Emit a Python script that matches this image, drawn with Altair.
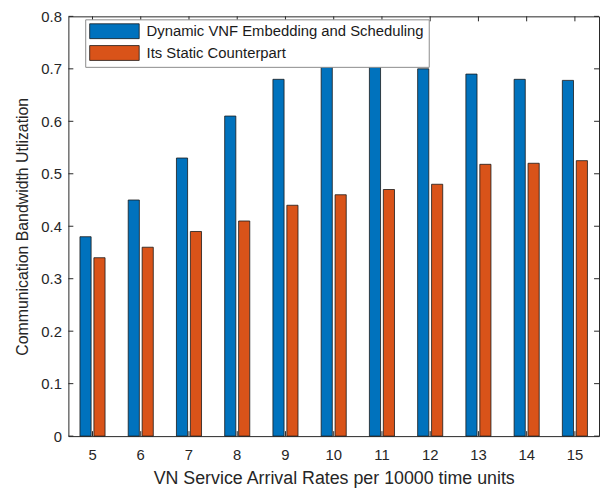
import altair as alt
import pandas as pd

categories = [5, 6, 7, 8, 9, 10, 11, 12, 13, 14, 15]
dynamic_vals = [0.38, 0.45, 0.53, 0.61, 0.68, 0.71, 0.71, 0.70, 0.69, 0.68, 0.678]
static_vals = [0.34, 0.36, 0.39, 0.41, 0.44, 0.46, 0.47, 0.48, 0.518, 0.52, 0.525]
series_names = ["Dynamic VNF Embedding and Scheduling", "Its Static Counterpart"]
series_colors = ["#0072BD", "#D95319"]
y_ticks = [0, 0.1, 0.2, 0.3, 0.4, 0.5, 0.6, 0.7, 0.8]

rows = []
for c, d, s in zip(categories, dynamic_vals, static_vals):
    rows.append({"cat": c, "series": series_names[0], "val": d})
    rows.append({"cat": c, "series": series_names[1], "val": s})
df = pd.DataFrame(rows)

W, H = 536, 424
TL = 5
FONT = "Liberation Sans"

x_scale = alt.Scale(domain=categories, paddingInner=0.48, paddingOuter=0.24)
y_scale = alt.Scale(domain=[0, 0.8], nice=False)

bars = alt.Chart(df).mark_bar(stroke="#1a1a1a", strokeWidth=0.8).encode(
    x=alt.X("cat:O", scale=x_scale,
            axis=alt.Axis(title="VN Service Arrival Rates per 10000 time units",
                          labelAngle=0, ticks=False, domain=False,
                          labelPadding=12, titlePadding=7, titleFontSize=18)),
    xOffset=alt.XOffset("series:N", sort=series_names,
                        scale=alt.Scale(paddingInner=0.2)),
    y=alt.Y("val:Q", scale=y_scale,
            axis=alt.Axis(title="Communication Bandwidth Utlization",
                          values=y_ticks, ticks=False, domain=False, grid=False,
                          labelPadding=7, titlePadding=10, format=".1~f")),
    color=alt.Color("series:N", sort=series_names,
                    scale=alt.Scale(domain=series_names, range=series_colors),
                    legend=alt.Legend(title=None, orient="none", legendX=17, legendY=3,
                                      symbolType="M-1,-1H5.67V1H-1Z", symbolSize=225,
                                      symbolStrokeColor="#1a1a1a", symbolStrokeWidth=0.8,
                                      symbolOpacity=1, labelLimit=400,
                                      labelFontSize=15, labelFont=FONT, labelColor="#1a1a1a",
                                      strokeColor="#8c8c8c", fillColor="white",
                                      padding=4, rowPadding=2, labelOffset=42)),
)

ydf = pd.DataFrame({"v": y_ticks})
xdf = pd.DataFrame({"cat": categories})

left_ticks = alt.Chart(ydf).mark_rule(color="#262626", strokeWidth=1).encode(
    y=alt.Y("v:Q", scale=y_scale), x=alt.value(0), x2=alt.value(TL))
right_ticks = alt.Chart(ydf).mark_rule(color="#262626", strokeWidth=1).encode(
    y=alt.Y("v:Q", scale=y_scale), x=alt.value(W - TL), x2=alt.value(W))
top_ticks = alt.Chart(xdf).mark_rule(color="#262626", strokeWidth=1).encode(
    x=alt.X("cat:O", scale=x_scale), y=alt.value(0), y2=alt.value(TL))
bottom_ticks = alt.Chart(xdf).mark_rule(color="#262626", strokeWidth=1).encode(
    x=alt.X("cat:O", scale=x_scale), y=alt.value(H - TL), y2=alt.value(H))

chart = alt.layer(bars, left_ticks, right_ticks, top_ticks, bottom_ticks).properties(
    width=W, height=H,
    autosize=alt.AutoSizeParams(type="none"),
    padding={"left": 61, "top": 6, "right": 2, "bottom": 54},
).configure_view(
    stroke="#262626", strokeWidth=1
).configure_axis(
    labelFont=FONT, labelFontSize=15, labelColor="#262626",
    titleFont=FONT, titleFontSize=16, titleColor="#262626", titleFontWeight="normal",
)

chart.save("out.html", embed_options={"renderer": "svg", "actions": False})
